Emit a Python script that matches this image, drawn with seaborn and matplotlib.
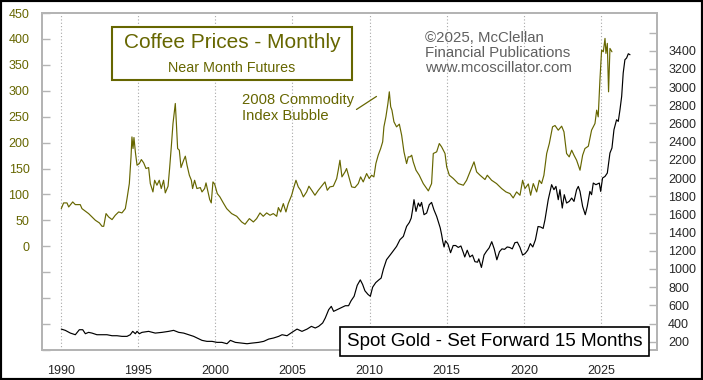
import numpy as np
import pandas as pd
import seaborn as sns
import matplotlib.pyplot as plt
from matplotlib.patches import Rectangle

# Coffee near-month futures (cents/lb)
coffee_year = [
    1990.02, 1990.17, 1990.39, 1990.50, 1990.76, 1990.93, 1991.25, 1991.36, 1991.79, 1992.23,
    1992.49, 1992.66, 1992.77, 1992.92, 1993.09, 1993.31, 1993.52, 1993.74, 1993.95, 1994.17,
    1994.28, 1994.43, 1994.54, 1994.60, 1994.67, 1994.73, 1994.82, 1994.93, 1995.08, 1995.21,
    1995.36, 1995.51, 1995.68, 1995.79, 1995.96, 1996.07, 1996.22, 1996.37, 1996.50, 1996.65,
    1996.76, 1996.94, 1997.04, 1997.15, 1997.26, 1997.37, 1997.41, 1997.48, 1997.56, 1997.67,
    1997.78, 1997.95, 1998.06, 1998.17, 1998.32, 1998.45, 1998.53, 1998.66, 1998.81, 1999.03,
    1999.14, 1999.31, 1999.40, 1999.53, 1999.64, 1999.74, 1999.85, 1999.96, 2000.13, 2000.30,
    2000.52, 2000.74, 2001.06, 2001.39, 2001.71, 2001.93, 2002.21, 2002.47, 2002.68, 2002.90,
    2003.11, 2003.33, 2003.55, 2003.76, 2003.98, 2004.09, 2004.24, 2004.41, 2004.58, 2004.73,
    2004.95, 2005.10, 2005.23, 2005.38, 2005.53, 2005.71, 2005.92, 2006.07, 2006.25, 2006.46,
    2006.68, 2006.89, 2007.11, 2007.26, 2007.43, 2007.65, 2007.87, 2007.97, 2008.08, 2008.21,
    2008.41, 2008.51, 2008.69, 2008.84, 2009.05, 2009.27, 2009.42, 2009.59, 2009.81, 2009.98,
    2010.13, 2010.28, 2010.41, 2010.56, 2010.72, 2010.85, 2010.93, 2011.06, 2011.19, 2011.28,
    2011.37, 2011.45, 2011.58, 2011.75, 2011.93, 2012.08, 2012.23, 2012.40, 2012.51, 2012.62,
    2012.73, 2012.83, 2013.01, 2013.22, 2013.48, 2013.81, 2014.02, 2014.13, 2014.35, 2014.52,
    2014.67, 2014.89, 2015.00, 2015.17, 2015.43, 2015.75, 2016.08, 2016.29, 2016.51, 2016.77,
    2016.94, 2017.16, 2017.48, 2017.63, 2017.91, 2018.23, 2018.56, 2018.84, 2019.10, 2019.31,
    2019.53, 2019.75, 2019.92, 2020.07, 2020.29, 2020.44, 2020.61, 2020.83, 2021.00, 2021.15,
    2021.30, 2021.48, 2021.65, 2021.86, 2022.02, 2022.23, 2022.45, 2022.60, 2022.77, 2022.94,
    2023.10, 2023.25, 2023.42, 2023.64, 2023.81, 2023.96, 2024.18, 2024.39, 2024.61, 2024.72,
    2024.82, 2024.93, 2025.04, 2025.15, 2025.26, 2025.32, 2025.41, 2025.49, 2025.58, 2025.71,
]
coffee_price = [
    72.7, 83.7, 83.7, 75.9, 85.6, 80.4, 80.4, 72.7, 63.1, 50.2,
    45.1, 38.6, 38.6, 63.1, 56.6, 51.5, 59.9, 66.3, 64.4, 72.7,
    92.0, 121.0, 172.5, 211.0, 188.6, 209.8, 182.2, 156.4, 159.6, 167.3,
    160.9, 150.0, 151.9, 121.0, 104.9, 127.4, 117.8, 127.4, 111.4, 127.4,
    103.0, 115.9, 150.0, 191.8, 236.9, 265.8, 275.5, 236.9, 188.6, 185.4,
    151.9, 166.0, 173.8, 156.4, 137.1, 127.4, 111.4, 127.4, 111.4, 113.3,
    104.9, 111.4, 122.3, 104.9, 90.2, 83.7, 124.2, 120.0, 101.7, 95.3,
    83.7, 72.7, 63.1, 57.9, 47.0, 42.5, 53.4, 47.0, 53.4, 64.4,
    57.9, 64.4, 59.9, 63.1, 57.9, 74.7, 66.3, 82.4, 66.3, 82.4,
    98.5, 114.6, 127.4, 114.6, 108.1, 95.3, 104.9, 115.9, 108.1, 98.5,
    108.1, 115.9, 124.2, 108.1, 114.6, 115.9, 130.7, 146.8, 166.0, 133.9,
    143.5, 150.0, 130.7, 114.6, 113.3, 121.0, 133.9, 124.2, 140.3, 130.7,
    137.1, 133.9, 159.6, 175.7, 188.6, 201.5, 230.4, 249.8, 275.5, 298.0,
    269.1, 262.6, 240.1, 230.4, 235.6, 214.3, 182.2, 159.6, 172.5, 172.5,
    175.7, 162.9, 146.8, 137.1, 121.0, 106.9, 121.0, 179.0, 182.2, 198.2,
    191.8, 179.0, 153.2, 137.1, 130.7, 121.0, 117.8, 127.4, 143.5, 162.9,
    143.5, 137.1, 128.8, 137.1, 127.4, 121.0, 111.4, 104.9, 101.7, 93.3,
    104.9, 98.5, 127.4, 111.4, 120.3, 98.5, 121.0, 104.9, 127.4, 121.0,
    137.1, 179.0, 198.2, 230.4, 233.0, 224.0, 231.7, 220.8, 179.0, 172.5,
    185.4, 175.7, 166.0, 146.8, 175.7, 188.6, 193.1, 224.0, 236.9, 262.6,
    249.7, 320.5, 378.5, 375.2, 401.0, 372.0, 391.4, 298.0, 381.7, 375.2,
]

# Spot gold ($/oz), plotted 15 months forward
gold_year = [
    1990.02, 1990.28, 1990.61, 1990.93, 1991.19, 1991.41, 1991.58, 1991.79, 1992.01, 1992.33,
    1992.66, 1992.98, 1993.31, 1993.63, 1993.95, 1994.28, 1994.49, 1994.65, 1994.82, 1994.93,
    1995.08, 1995.25, 1995.68, 1996.11, 1996.55, 1996.98, 1997.30, 1997.63, 1997.95, 1998.28,
    1998.60, 1998.82, 1999.14, 1999.46, 1999.79, 2000.11, 2000.43, 2000.76, 2000.98, 2001.30,
    2001.73, 2002.06, 2002.38, 2002.81, 2003.14, 2003.46, 2003.78, 2004.11, 2004.33, 2004.65,
    2004.97, 2005.30, 2005.62, 2005.95, 2006.23, 2006.48, 2006.70, 2006.96, 2007.13, 2007.35,
    2007.52, 2007.67, 2007.89, 2008.10, 2008.43, 2008.64, 2008.80, 2009.00, 2009.20, 2009.40,
    2009.55, 2009.70, 2009.90, 2010.05, 2010.20, 2010.40, 2010.60, 2010.75, 2010.90, 2011.10,
    2011.43, 2011.75, 2011.97, 2012.19, 2012.40, 2012.58, 2012.70, 2012.79, 2012.88, 2013.01,
    2013.16, 2013.27, 2013.37, 2013.53, 2013.70, 2013.87, 2014.02, 2014.17, 2014.35, 2014.58,
    2014.67, 2014.75, 2014.83, 2014.92, 2015.08, 2015.25, 2015.42, 2015.58, 2015.75, 2015.92,
    2016.08, 2016.17, 2016.33, 2016.50, 2016.67, 2016.83, 2017.00, 2017.08, 2017.25, 2017.42,
    2017.58, 2017.75, 2017.92, 2018.08, 2018.25, 2018.42, 2018.58, 2018.75, 2018.92, 2019.08,
    2019.25, 2019.42, 2019.58, 2019.75, 2019.92, 2020.08, 2020.25, 2020.42, 2020.58, 2020.75,
    2020.92, 2021.08, 2021.25, 2021.37, 2021.58, 2021.80, 2021.95, 2022.08, 2022.23, 2022.34,
    2022.49, 2022.62, 2022.77, 2022.94, 2023.10, 2023.25, 2023.42, 2023.53, 2023.64, 2023.81,
    2023.98, 2024.11, 2024.28, 2024.39, 2024.50, 2024.67, 2024.89, 2024.98, 2025.10, 2025.26,
    2025.41, 2025.58, 2025.71, 2025.84, 2026.01, 2026.12, 2026.23, 2026.34, 2026.44, 2026.55,
    2026.66, 2026.77, 2026.88,
]
gold_price = [
    339, 325, 295, 277, 332, 332, 288, 303, 295, 277,
    277, 277, 266, 266, 259, 259, 277, 314, 288, 314,
    288, 303, 314, 295, 303, 314, 325, 303, 295, 277,
    259, 241, 215, 204, 204, 193, 193, 178, 215, 193,
    185, 178, 185, 193, 204, 229, 241, 259, 277, 266,
    303, 339, 314, 339, 369, 351, 369, 406, 461, 552,
    589, 534, 552, 570, 596, 596, 650, 700, 820, 880,
    830, 760, 720, 700, 800, 850, 880, 900, 1000, 1102,
    1175, 1248, 1322, 1358, 1468, 1512, 1560, 1652, 1762, 1633,
    1725, 1688, 1732, 1597, 1615, 1707, 1732, 1652, 1578, 1452,
    1378, 1300, 1242, 1310, 1274, 1179, 1258, 1258, 1237, 1253,
    1179, 1132, 1206, 1132, 1153, 1080, 1075, 1111, 1017, 1153,
    1195, 1232, 1300, 1221, 1101, 1190, 1221, 1216, 1242, 1237,
    1221, 1289, 1295, 1237, 1153, 1169, 1206, 1279, 1242, 1321,
    1467, 1462, 1446, 1542, 1762, 1927, 1872, 1908, 1762, 1872,
    1670, 1817, 1725, 1743, 1780, 1743, 1872, 1908, 1853, 1688,
    1597, 1688, 1853, 1817, 1945, 1927, 1945, 1853, 2000, 2018,
    2055, 2275, 2330, 2531, 2641, 2623, 2751, 2898, 3155, 3301,
    3320, 3367, 3356,
]

year_ticks = [1990, 1995, 2000, 2005, 2010, 2015, 2020, 2025]
coffee_ticks = list(range(-200, 451, 50))
gold_ticks = list(range(200, 3601, 200))

coffee = pd.DataFrame({'year': coffee_year, 'price': coffee_price})
gold = pd.DataFrame({'year': gold_year, 'price': gold_price})

OLIVE = '#666600'
GRID = '#b4b4b4'
W, H = 703, 380

sns.set_style('white')
plt.rcParams['font.family'] = ['Liberation Sans', 'DejaVu Sans']

fig = plt.figure(figsize=(W / 100, H / 100), dpi=100)
ax = fig.add_axes([42 / W, 1 - 350 / H, 615 / W, 337 / H])
ax2 = ax.twinx()

sns.lineplot(data=coffee, x='year', y='price', ax=ax, color=OLIVE, linewidth=0.85, estimator=None)
sns.lineplot(data=gold, x='year', y='price', ax=ax2, color='black', linewidth=0.85, estimator=None)

ax.set_xlim(1988.77, 2028.63)
ax.set_ylim(-200, 450)
ax2.set_ylim(109, 3815)

# dotted vertical year grid
for yr in year_ticks:
    ax.axvline(yr, color='#a8a8a8', linestyle=(0, (1, 2)), linewidth=0.8, zorder=0)

ax.set_xticks(year_ticks)
ax.set_xticklabels([str(y) for y in year_ticks], fontsize=9)
ax.set_yticks(coffee_ticks)
ax.set_yticklabels([str(v) if v >= 0 else '' for v in coffee_ticks], fontsize=9, color=OLIVE)
ax2.set_yticks(gold_ticks)
ax2.set_yticklabels([str(v) if v <= 3400 else '' for v in gold_ticks], fontsize=9)

ax.tick_params(axis='x', length=0, pad=11)
ax.tick_params(axis='y', direction='in', length=6, color=GRID, width=1, pad=9)
ax2.tick_params(axis='y', direction='in', length=6, color=GRID, width=1, pad=8)
ax.set_xlabel('')
ax.set_ylabel('')
ax2.set_ylabel('')
for a in (ax, ax2):
    for s in a.spines.values():
        s.set_color(GRID)
        s.set_linewidth(1.3)


def fx(x):
    return x / W


def fy(y):
    return 1 - y / H


# title box
fig.add_artist(Rectangle((fx(112), fy(80)), 240 / W, 53 / H, transform=fig.transFigure,
                         facecolor='white', edgecolor=OLIVE, linewidth=1.5, zorder=5))
fig.text(fx(232), fy(42), 'Coffee Prices - Monthly', ha='center', va='center',
         fontsize=15, color=OLIVE, zorder=6)
fig.text(fx(232), fy(68), 'Near Month Futures', ha='center', va='center',
         fontsize=10.3, color=OLIVE, zorder=6)

# copyright
fig.text(fx(425), fy(53), '©2025, McClellan\nFinancial Publications\nwww.mcoscillator.com',
         ha='left', va='center', fontsize=10.8, color='#606060', linespacing=1.08, zorder=6)

# annotation
fig.text(fx(242), fy(108), '2008 Commodity\nIndex Bubble', ha='left', va='center',
         fontsize=10.6, color=OLIVE, linespacing=1.1, zorder=6)
ax.annotate('', xy=(2010.6, 292), xytext=(2009.0, 261),
            arrowprops=dict(arrowstyle='-', color=OLIVE, lw=0.9))

# gold label box
fig.add_artist(Rectangle((fx(340), fy(356)), 309 / W, 29 / H, transform=fig.transFigure,
                         facecolor='white', edgecolor='black', linewidth=1.2, zorder=5))
fig.text(fx(494.5), fy(341.5), 'Spot Gold - Set Forward 15 Months', ha='center', va='center',
         fontsize=13.6, color='black', zorder=6)

# outer frame
fig.add_artist(Rectangle((0, 0), 1, 1, transform=fig.transFigure, fill=False,
                         edgecolor='black', linewidth=3, zorder=10))

fig.savefig('out.png', dpi=100)
